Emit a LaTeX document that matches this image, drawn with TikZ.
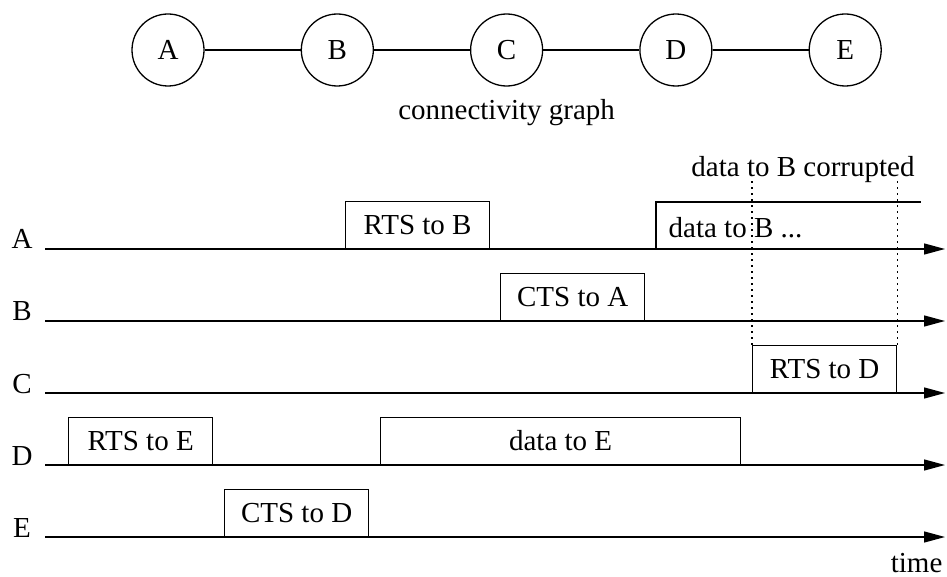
\documentclass[tikz,border=0pt]{standalone}
\usepackage{fontspec}
\setmainfont{Liberation Serif}
\usetikzlibrary{positioning,arrows.meta}

\begin{document}
\begin{tikzpicture}[
    x=0.5pt, y=-0.5pt,
    font=\fontsize{14.5}{17}\selectfont,
    line width=0.65pt,
    station/.style={draw, circle, minimum size=36pt, inner sep=0pt},
    msg/.style={draw, anchor=south west, minimum width=72pt, minimum height=23.5pt, inner sep=0pt},
    lane/.style={anchor=base, inner sep=0pt},
    axis/.style={-{Triangle[length=10.5pt, width=5.5pt]}},
    hint/.style={line width=0.8pt, dash pattern=on 0.7pt off 2.3pt},
    node distance=48pt,
]
\useasboundingbox (0,0) rectangle (947,577);

% connectivity graph
\node[station] (A) at (168,50) {A};
\node[station, right=of A] (B) {B};
\node[station, right=of B] (C) {C};
\node[station, right=of C] (D) {D};
\node[station, right=of D] (E) {E};
\draw (A) -- (B) (B) -- (C) (C) -- (D) (D) -- (E);
\node[below=2.5pt of C] (caption) {connectivity graph};

% one time axis per station
\foreach \n/\y in {A/249,B/321,C/393,D/465,E/537} {
  \node[lane] (l\n) at (22,\y) {\n};
  \coordinate (s\n) at (45,\y);
  \coordinate (t\n) at (945,\y);
  \draw[axis] (s\n) -- (t\n);
}
\node[anchor=base east, inner sep=0pt] (time) at (943,572) {time};

% transmissions
\node[msg] (rtsB) at (345,249) {RTS to B};
\node[msg] (ctsA) at (500,321) {CTS to A};
\node[msg] (rtsD) at (752,393) {RTS to D};
\node[msg] (rtsE) at (68,465) {RTS to E};
\node[msg, minimum width=180pt] (dataE) at (380,465) {data to E};
\node[msg] (ctsD) at (224,537) {CTS to D};

% A keeps sending past the right edge
\draw (656,249) |- (921,202);
\node[anchor=west, inner sep=0pt] (dataB) at (668,228) {data to B ...};

% collision window
\node[anchor=base, inner sep=0pt] (corrupt) at (803,177) {data to B corrupted};
\draw[hint] (rtsD.north west) -- (rtsD.north west |- corrupt.base);
\draw[hint] (rtsD.north east) -- (rtsD.north east |- corrupt.base);
\end{tikzpicture}
\end{document}
